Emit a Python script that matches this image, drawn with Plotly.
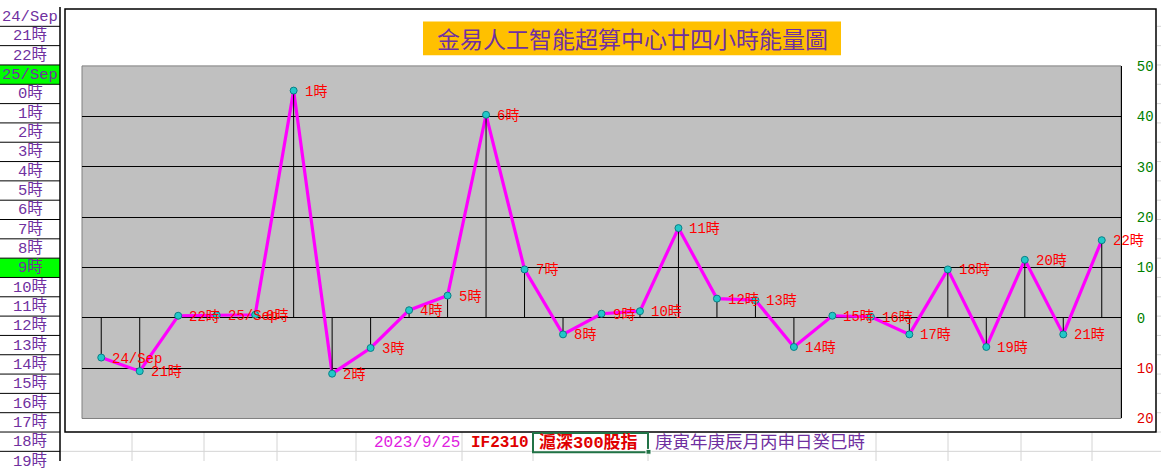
import plotly.graph_objects as go

# ---------------- data ----------------
CATEGORIES = ["24/Sep", "21時", "22時", "25/Sep", "0時", "1時", "2時", "3時", "4時",
              "5時", "6時", "7時", "8時", "9時", "10時", "11時", "12時", "13時",
              "14時", "15時", "16時", "17時", "18時", "19時", "20時", "21時", "22時"]
VALUES = [-7.9, -10.6, 0.4, 0.5, 0.6, 45.1, -11.1, -6.0, 1.5, 4.4, 40.3, 9.6, -3.3,
          0.8, 1.3, 17.8, 3.8, 3.5, -5.8, 0.4, 0.2, -3.3, 9.6, -5.8, 11.5, -3.3, 15.4]
Y_TICKS = [-20, -10, 0, 10, 20, 30, 40, 50]
Y_TICK_TEXT = ["20", "10", "0", "10", "20", "30", "40", "50"]
ROW_LABELS = ["24/Sep", "21時", "22時", "25/Sep", "0時", "1時", "2時", "3時", "4時",
              "5時", "6時", "7時", "8時", "9時", "10時", "11時", "12時", "13時",
              "14時", "15時", "16時", "17時", "18時", "19時"]
HIGHLIGHT_ROWS = [3, 13]
TITLE = "金易人工智能超算中心廿四小時能量圖"
BOTTOM_TEXTS = ["2023/9/25", "IF2310", "滬深300股指", "庚寅年庚辰月丙申日癸巳時"]

# ---------------- helpers ----------------
W, H = 1161, 470
def px(x):
    return x / W
def py(y):
    return 1 - y / H

LAT = "Liberation Mono, Noto Sans CJK TC"
CJK = "Noto Sans CJK TC"
PURPLE = "#7030A0"

xs = list(range(len(VALUES)))
err_plus = [(-v if v < 0 else 0) for v in VALUES]
err_minus = [(v if v > 0 else 0) for v in VALUES]

fig = go.Figure()
# magenta line
fig.add_trace(go.Scatter(x=xs, y=VALUES, mode="lines",
                         line=dict(color="#FF00FF", width=3.2),
                         hoverinfo="skip", showlegend=False))
# drop lines to zero
fig.add_trace(go.Scatter(x=xs, y=VALUES, mode="markers",
                         marker=dict(size=1, opacity=0),
                         error_y=dict(type="data", symmetric=False,
                                      array=err_plus, arrayminus=err_minus,
                                      color="black", thickness=1, width=0),
                         hoverinfo="skip", showlegend=False))
# markers
fig.add_trace(go.Scatter(x=xs, y=VALUES, mode="markers",
                         marker=dict(size=7, color="#22C8C8",
                                     line=dict(color="#0A7F86", width=1)),
                         showlegend=False))

shapes = []
annotations = []

# ---- Excel left column ----
for i, lab in enumerate(ROW_LABELS):
    y0 = i * 20
    if i in HIGHLIGHT_ROWS:
        shapes.append(dict(type="rect", xref="paper", yref="paper",
                           x0=px(0), x1=px(60), y0=py(y0 + 20), y1=py(y0),
                           fillcolor="#00FF00", line=dict(width=0), layer="below"))
    annotations.append(dict(xref="paper", yref="paper", x=px(30), y=py(y0 + 10),
                            text=lab, showarrow=False, xanchor="center",
                            yanchor="middle",
                            font=dict(family=LAT, size=15.5, color=PURPLE)))
for i in range(1, 25):
    shapes.append(dict(type="line", xref="paper", yref="paper",
                       x0=px(0), x1=px(60), y0=py(i * 20), y1=py(i * 20),
                       line=dict(color="black", width=1)))
shapes.append(dict(type="line", xref="paper", yref="paper",
                   x0=px(60), x1=px(60), y0=py(0), y1=py(470),
                   line=dict(color="black", width=1.5)))

# ---- sheet gridlines below the chart ----
for gx in [132, 204, 277, 356, 462, 533, 648, 876, 948, 1021, 1092]:
    shapes.append(dict(type="line", xref="paper", yref="paper",
                       x0=px(gx), x1=px(gx), y0=py(440), y1=py(470),
                       line=dict(color="#D4D4D4", width=1), layer="below"))
shapes.append(dict(type="line", xref="paper", yref="paper",
                   x0=px(60), x1=px(1161), y0=py(460), y1=py(460),
                   line=dict(color="#D4D4D4", width=1), layer="below"))
for gy in range(20, 460, 20):
    shapes.append(dict(type="line", xref="paper", yref="paper",
                       x0=px(1157), x1=px(1161), y0=py(gy), y1=py(gy),
                       line=dict(color="#D4D4D4", width=1), layer="below"))

# ---- chart border ----
shapes.append(dict(type="rect", xref="paper", yref="paper",
                   x0=px(65), x1=px(1156), y0=py(440), y1=py(2),
                   line=dict(color="black", width=1.5), fillcolor="rgba(0,0,0,0)"))
# plot-area border (gray)
shapes.append(dict(type="rect", xref="paper", yref="paper",
                   x0=px(82), x1=px(1121), y0=py(426), y1=py(61),
                   line=dict(color="#808080", width=1), fillcolor="rgba(0,0,0,0)",
                   layer="below"))

# ---- title ----
shapes.append(dict(type="rect", xref="paper", yref="paper",
                   x0=px(423), x1=px(841), y0=py(50), y1=py(15),
                   fillcolor="#FFC000", line=dict(width=0)))
annotations.append(dict(xref="paper", yref="paper", x=px(632), y=py(32.5),
                        text=TITLE, showarrow=False, xanchor="center",
                        yanchor="middle",
                        font=dict(family=CJK, size=23, color=PURPLE)))

# ---- data labels ----
for x, v, lab in zip(xs, VALUES, CATEGORIES):
    annotations.append(dict(xref="x", yref="y", x=x, y=v, text=lab,
                            showarrow=False, xanchor="left", yanchor="middle",
                            xshift=9, yshift=-1,
                            font=dict(family=LAT, size=14, color="#FF0000")))

# ---- bottom row texts ----
bottom_pos = [(372, "#E020E0", False, 16), (469, "#E00000", True, 16),
              (537, "#E00000", True, 17), (653, PURPLE, False, 17.5)]
for t, (bx, col, bold, sz) in zip(BOTTOM_TEXTS, bottom_pos):
    annotations.append(dict(xref="paper", yref="paper", x=px(bx), y=py(451),
                            text=f"<b>{t}</b>" if bold else t, showarrow=False,
                            xanchor="left", yanchor="middle",
                            font=dict(family=LAT, size=sz, color=col)))
# green selected cell
shapes.append(dict(type="rect", xref="paper", yref="paper",
                   x0=px(533), x1=px(648), y0=py(461), y1=py(441),
                   line=dict(color="#217346", width=2), fillcolor="rgba(0,0,0,0)"))
shapes.append(dict(type="rect", xref="paper", yref="paper",
                   x0=px(646), x1=px(651), y0=py(463), y1=py(458),
                   line=dict(color="white", width=1), fillcolor="#217346"))

tick_text = [
    f'<span style="color:{"#E00000" if v < 0 else "#008000"}">{t}</span>'
    for v, t in zip(Y_TICKS, Y_TICK_TEXT)
]

fig.update_layout(
    width=W, height=H,
    margin=dict(l=0, r=0, t=0, b=0),
    paper_bgcolor="white",
    plot_bgcolor="#C0C0C0",
    showlegend=False,
    shapes=shapes,
    annotations=annotations,
    xaxis=dict(domain=[px(82), px(1121)], range=[-0.5, len(VALUES) - 0.5],
               showticklabels=False, showgrid=False, zeroline=False,
               showline=False, ticks="", fixedrange=True),
    yaxis=dict(domain=[py(426), py(61)], range=[-20, 50], side="right",
               tickvals=Y_TICKS, ticktext=tick_text, showgrid=True,
               gridcolor="black", gridwidth=1, zeroline=False,
               showline=True, linecolor="black", linewidth=1,
               ticks="", ticklabelstandoff=12,
               tickfont=dict(family=LAT, size=14, color="#008000"),
               fixedrange=True),
)

fig.write_html(
    "out.html",
    config={"responsive": False, "displayModeBar": False},
    div_id="chart",
    post_script=(
        "var s=document.createElement('style');"
        "s.textContent='html,body{margin:0!important;padding:0!important;"
        "overflow:hidden!important;}"
        "#chart{position:fixed!important;left:0;top:0;}';"
        "document.head.appendChild(s);"
    ),
)
